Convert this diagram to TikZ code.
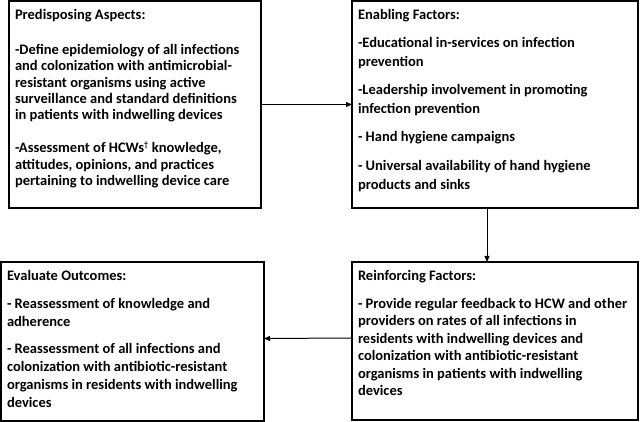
\documentclass[tikz,border=0pt]{standalone}
\usepackage{fontspec}
\setmainfont{Carlito}
\usetikzlibrary{arrows.meta,positioning}
\newcommand{\boxbody}[3]{\parbox[t][#2][t]{#1}{#3}}

\begin{document}
\begin{tikzpicture}[x=1pt,y=-1pt,
    factor/.style={draw,line width=1.2pt,inner xsep=6pt,inner ysep=8pt,outer sep=0pt,
      anchor=north west,font=\bfseries},
    link/.style={line width=1pt,-{Triangle[length=6pt,width=5pt]}}]
  \useasboundingbox (0,0) rectangle (640,422);
  % the four boxes
  \node[factor] (pred) at (9,1) {\boxbody{240pt}{191pt}{\fontsize{14.5}{16.3}\selectfont
    Predisposing Aspects:\\[19pt]
    -Define epidemiology of all infections\\
    and colonization with antimicrobial-\\
    resistant organisms using active\\
    surveillance and standard definitions\\
    in patients with indwelling devices\\[17pt]
    -Assessment of HCWs\textsuperscript{\fontsize{8}{8}\selectfont†} knowledge,\\
    attitudes, opinions, and practices\\
    pertaining to indwelling device care}};
  \node[factor] (enab) at (352,1) {\boxbody{274pt}{191pt}{\fontsize{14.5}{19}\selectfont
    Enabling Factors:\\[9pt]
    -Educational in-services on infection\\
    prevention\\[9pt]
    -Leadership involvement in promoting\\
    infection prevention\\[9pt]
    - Hand hygiene campaigns\\[10pt]
    - Universal availability of hand hygiene\\
    products and sinks}};
  \node[factor] (reinf) at (352,262) {\boxbody{274pt}{142pt}{\fontsize{14.5}{17.5}\selectfont
    Reinforcing Factors:\\[10.5pt]
    - Provide regular feedback to HCW and other\\
    providers on rates of all infections in\\
    residents with indwelling devices and\\
    colonization with antibiotic-resistant\\
    organisms in patients with indwelling\\
    devices}};
  \node[factor] (eval) at (1,262) {\boxbody{251pt}{143pt}{\fontsize{14.5}{18}\selectfont
    Evaluate Outcomes:\\[10pt]
    - Reassessment of knowledge and\\
    adherence\\[9pt]
    - Reassessment of all infections and\\
    colonization with antibiotic-resistant\\
    organisms in residents with indwelling\\
    devices}};
  % connectors
  \draw[link] (pred.east) -- (enab.west);
  \draw[link] ([xshift=-8pt]enab.south) -- ([xshift=-8pt]reinf.north);
  \draw[link] ([yshift=3pt]reinf.west) -- ([yshift=3pt]eval.east);
\end{tikzpicture}
\end{document}
